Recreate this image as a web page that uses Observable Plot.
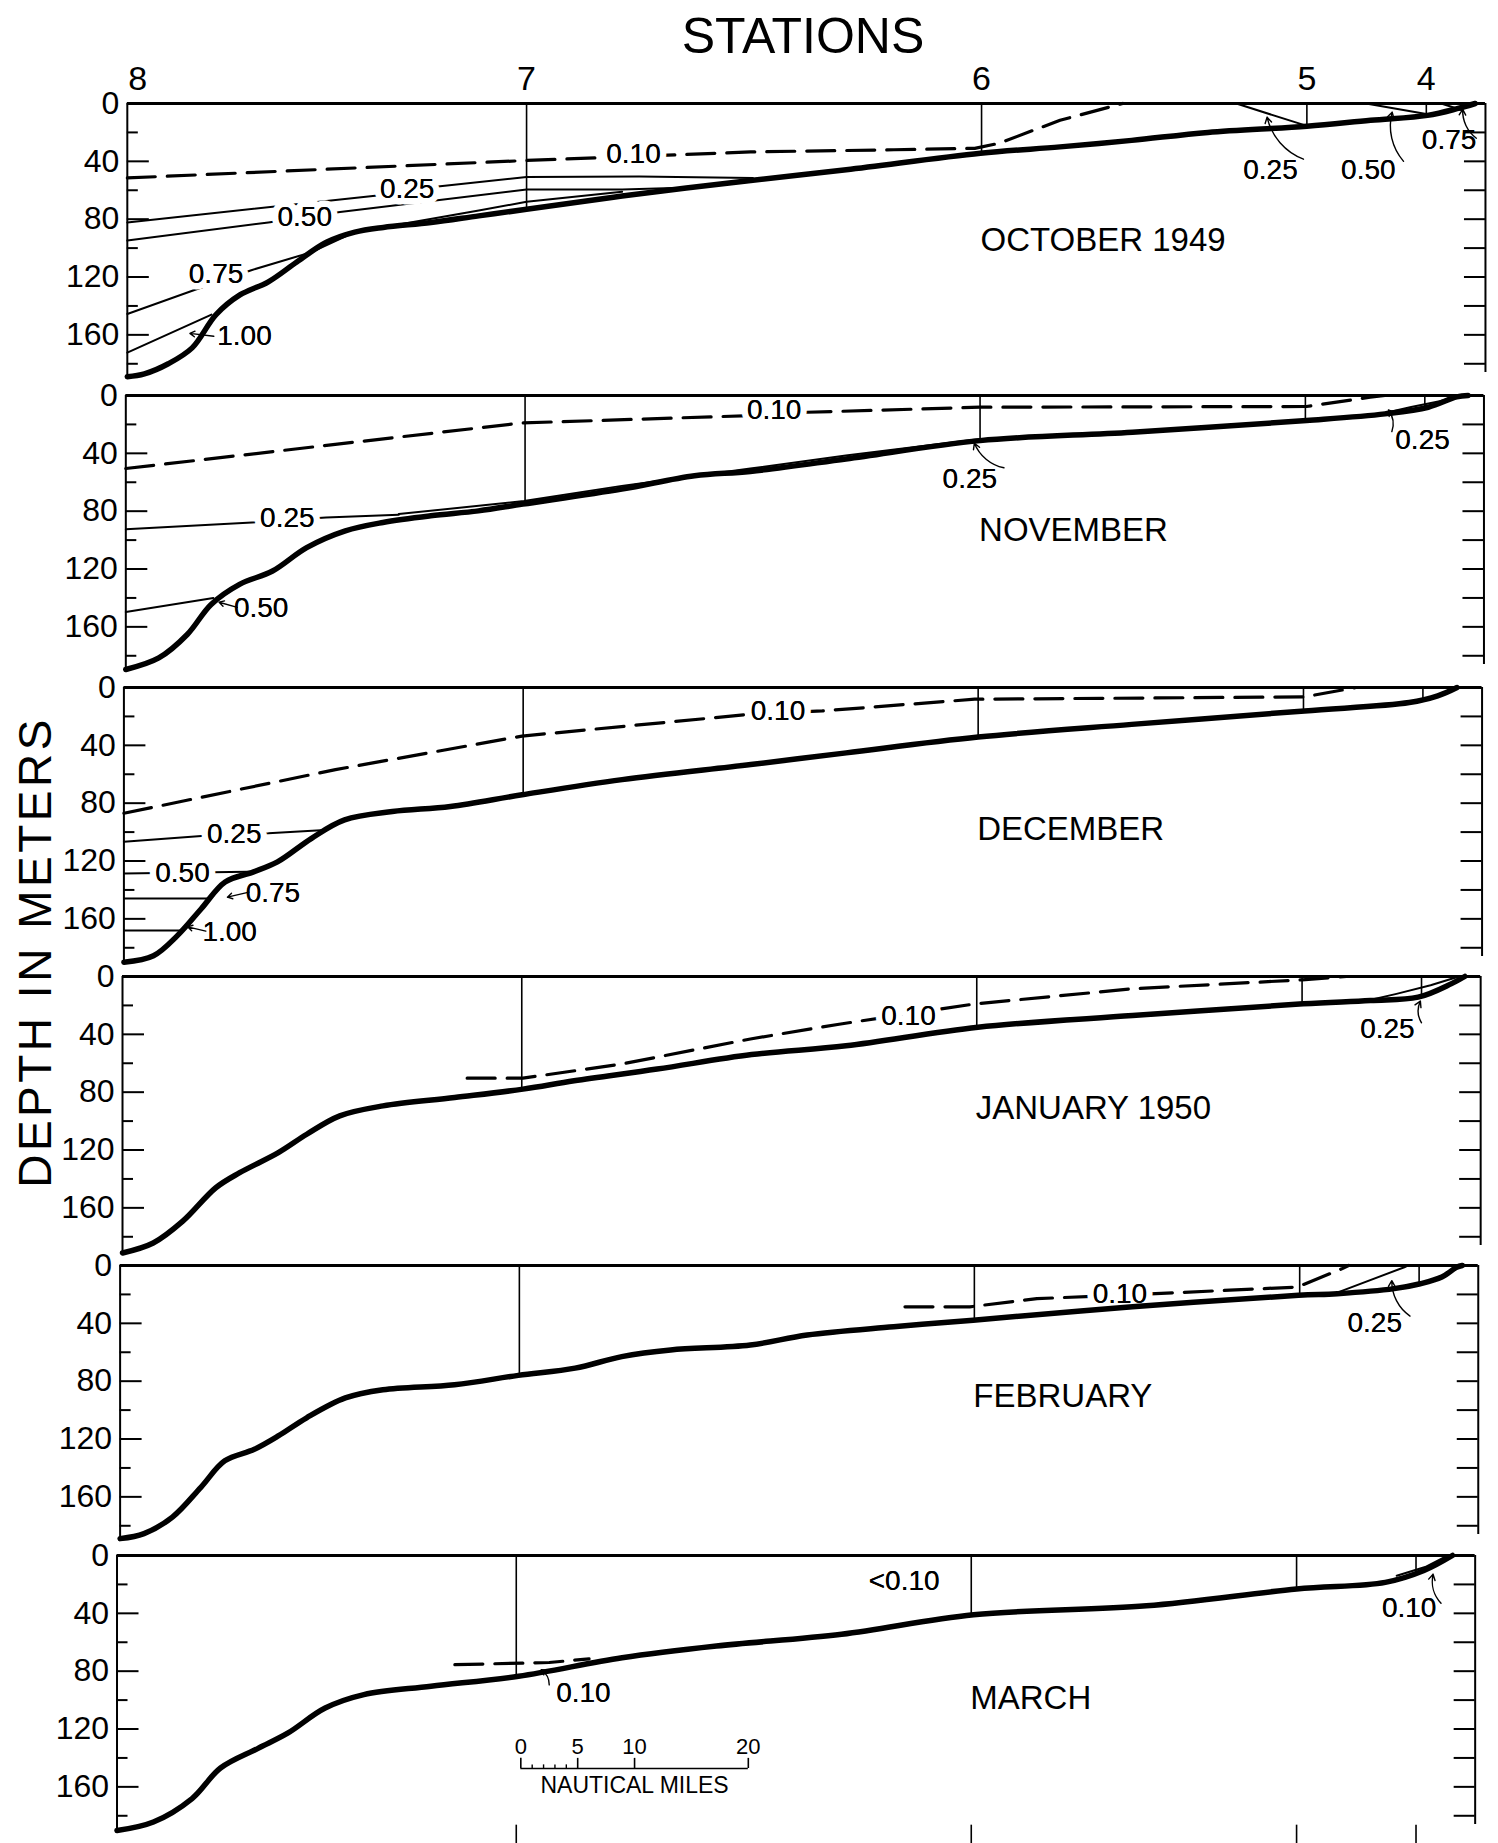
<!DOCTYPE html>
<html><head><meta charset="utf-8">
<script src="https://cdn.jsdelivr.net/npm/d3@7"></script>
<script src="https://cdn.jsdelivr.net/npm/@observablehq/plot@0.6"></script>
<style>
body{margin:0;background:#fff;}
#fig{position:relative;width:1498px;height:1843px;font-family:"Liberation Sans",Arial,sans-serif;color:#000;overflow:hidden;}
#title{position:absolute;left:803px;top:11px;transform:translateX(-50%);font-size:50px;line-height:50px;white-space:nowrap;}
#ylab{position:absolute;left:-265px;top:929px;width:600px;text-align:center;font-size:46px;line-height:46px;letter-spacing:3.5px;transform:rotate(-90deg);white-space:nowrap;}
</style></head>
<body><div id="fig">
<div id="title">STATIONS</div>
<div id="ylab">DEPTH IN METERS</div>
</div>
<script>
// ---------- DATA ----------
const months = ["OCTOBER 1949","NOVEMBER","DECEMBER","JANUARY 1950","FEBRUARY","MARCH"];
const stationNames = ["8","7","6","5","4"];
const stationMiles = [0, 35.1, 75.1, 103.7, 114.2];   // nautical miles from station 8
const depthLabels = [0,40,80,120,160];
const depthMajor = [40,80,120,160];
const depthMinor = [20,60,100,140,180];
const depthRight = [20,40,60,80,100,120,140,160,180];
const scaleMiles = [0,5,10,20];
const scaleMinor = [1,2,3,4];
const monthDepth = [94.8, 93.6, 98.3, 91.5, 90.7, 98.8];

// sounding depth at stations 7,6,5,4
const castOct = [73.2, 34.4, 15.7, 8.2];
const castNov = [75.1, 31.2, 17.3, 8.3];
const castDec = [74.2, 34.3, 16.2, 8.8];
const castJan = [77.9, 35.1, 18.9, 14.1];
const castFeb = [76, 37.8, 20.6, 12.8];
const castMar = [83.5, 41, 23.2, 11];

// bottom profiles [miles, depth m]
const bottomOct = [[0,189],[1.5,187],[3.6,180],[5.7,169],[7.8,146],[9.9,132.4],[12.4,123.3],[14.9,109.6],[17.5,96],[20,89],[22.5,85.7],[26.7,82.3],[30.9,77.7],[35.1,73.2],[43.5,64],[54.8,53.2],[63.2,45.8],[75,34.4],[82,30],[88.3,25.5],[95,20],[103.7,15.7],[109.3,11.6],[114.3,8.2],[116.9,3.6],[118.5,0]];
const bottomNov = [[0,189.5],[2.9,181.5],[5.4,165.3],[7.5,144.5],[10,130.6],[12.9,121.4],[15.9,105.2],[19.3,93.6],[22.6,87.8],[26.8,83.2],[31,79.8],[34.9,75.1],[43.6,64.7],[50,55.5],[54.9,52.5],[63.3,43.9],[75.1,31.2],[88.5,25.4],[103.8,17.3],[110.7,12.7],[114.5,8.1],[117,1],[118,0]];
const bottomDec = [[0,190],[2.6,185.5],[4.7,171.6],[6.8,153],[8.9,134.5],[11.4,127.5],[13.5,120.6],[16.5,104.3],[19.4,91.6],[23.6,85.8],[28.7,82.3],[35,74.2],[43.8,63.7],[55.1,53.3],[63.5,45.2],[75.1,34.3],[88.6,25.5],[103.8,16.2],[113,10.4],[115.5,5.8],[117.2,0]];
const bottomJan = [[0,191.2],[2.7,184.3],[5.3,169.2],[8.2,146.1],[10.3,135.7],[13.7,121.8],[16.2,109.1],[19.1,96.4],[22.9,89.5],[29.2,83.7],[35.2,77.9],[39.7,72.1],[47,64],[55.3,54],[63.6,47.9],[75.2,35.1],[88.8,27],[103.8,18.9],[109.7,16.6],[113.9,14.3],[116.8,5.1],[118,0]];
const bottomFeb = [[0,188.9],[2.1,185.4],[4.6,174],[7.1,153.4],[9.2,135.1],[11.8,127.1],[13.9,117.9],[16.4,105.3],[19.8,91.6],[23.1,85.9],[29.4,82.4],[35,76],[40,71],[44.1,63],[48.4,58.4],[55.4,55],[60.4,48.1],[68,42.4],[75,37.8],[89,28.6],[103.6,20.6],[107,19.5],[112,16],[114.3,12.6],[116.2,8],[117.5,1.2],[118,0]];
const bottomMar = [[0,190.2],[3.2,184.3],[6.6,168.1],[9.1,147],[12.4,133.4],[15,122.9],[18.3,105.5],[21.7,96.2],[27.6,90.4],[35.3,83.5],[44.4,70.7],[52.7,62.6],[63.7,54.5],[75.3,41],[90.5,34.8],[103.7,23.2],[111.5,18.6],[114.9,10.4],[117.4,0]];

// isolines [miles, depth]; dash marks the broken-line isoline
const isoOct = [
  {v:"0.10", dash:true, pts:[[0,51.5],[35.1,39.4],[54.8,33.5],[67.4,32],[74.5,31],[76.6,27.6],[82,11.6],[87.5,0]]},
  {v:"0.25", pts:[[0,82.3],[22,63.6],[27.5,57.2],[35.1,50.8],[45,50.5],[55,51.5]]},
  {v:"0.25", pts:[[97.5,0],[103.7,15.5]]},
  {v:"0.50", pts:[[0,94.8],[12.4,82.3],[18.7,75],[35.1,59.5],[43.5,59.5],[48,58.5]]},
  {v:"0.50", pts:[[108.9,0],[114.7,8]]},
  {v:"0.75", pts:[[0,145.6],[5.9,129],[10.9,115.3],[16.2,102.8],[20,89],[30.9,74],[35.1,68],[43.5,61]]},
  {v:"0.75", pts:[[115.5,0],[117.3,4.5]]},
  {v:"1.00", pts:[[0,172.3],[7.4,146]]}
];
const isoNov = [
  {v:"0.10", dash:true, pts:[[0,50.5],[34.8,19],[54.9,13.9],[59.9,11.6],[75.1,8.1],[103.8,7.6],[109.4,1.2],[110.7,0]]},
  {v:"0.25", pts:[[0,92.5],[11.1,87.8],[17.6,84.4],[24,82.5]]},
  {v:"0.25", pts:[[24,82],[35,73],[43.6,62.5],[54.9,50.5],[63.3,41.5],[75.1,30]]},
  {v:"0.25", pts:[[110.5,12.5],[113,8],[115.5,4],[117.5,0]]},
  {v:"0.50", pts:[[0,149.8],[7.7,140]]}
];
const isoDec = [
  {v:"0.10", dash:true, pts:[[0,87],[18.6,56.8],[35,33.6],[55.1,18.5],[61.4,16.2],[74.8,8.1],[103.8,6.5],[108.3,0]]},
  {v:"0.25", pts:[[0,106.6],[8,102],[12.7,100.8],[17.7,98.5]]},
  {v:"0.50", pts:[[0,128.7],[10.9,127.5]]},
  {v:"0.75", pts:[[0,146],[7.6,146]]},
  {v:"1.00", pts:[[0,168],[5,168]]}
];
const isoJan = [
  {v:"0.10", dash:true, pts:[[30.3,70.3],[35.2,70.3],[43.9,60.5],[55.2,43.2],[63,33],[74.9,19],[88.8,8.5],[103.7,2.3],[107.6,0]]},
  {v:"0.25", pts:[[109.3,17],[112,12],[115,6],[117.5,0]]}
];
const isoFeb = [
  {v:"0.10", dash:true, pts:[[69,28.6],[74.7,28.6],[80.6,22.9],[87.9,20.6],[103.5,14.9],[107.4,2.3],[108,0]]},
  {v:"0.25", pts:[[107,18.8],[112.9,1.2],[113.2,0]]}
];
const isoMar = [
  {v:"0.10", dash:true, pts:[[29.7,75.5],[38,74],[41.5,71.5]]},
  {v:"0.10", pts:[[112.5,14],[115,8],[117,0]]}
];

// isoline labels
const labelsOct = [{t:"0.10",x:44.5,d:35},{t:"0.25",x:24.6,d:59},{t:"0.50",x:15.6,d:78.8},{t:"0.75",x:7.8,d:117.6},{t:"1.00",x:10.3,d:160.9},{t:"0.25",x:100.5,d:45.8},{t:"0.50",x:109.1,d:45.8},{t:"0.75",x:116.2,d:25.3}];
const labelsNov = [{t:"0.10",x:57,d:10},{t:"0.25",x:14.2,d:85},{t:"0.25",x:74.2,d:57.8},{t:"0.25",x:114,d:30.7},{t:"0.50",x:11.9,d:146.8}];
const labelsDec = [{t:"0.10",x:57.5,d:16.5},{t:"0.25",x:9.7,d:101},{t:"0.50",x:5.15,d:128.2},{t:"0.75",x:13.1,d:142},{t:"1.00",x:9.3,d:169.3}];
const labelsJan = [{t:"0.10",x:69.1,d:27.5},{t:"0.25",x:111.2,d:36.3}];
const labelsFeb = [{t:"0.10",x:87.9,d:20},{t:"0.25",x:110.3,d:40}];
const labelsMar = [{t:"0.10",x:41,d:95},{t:"<0.10",x:69.2,d:17.4},{t:"0.10",x:113.6,d:36}];

// leader arrows: from label to isoline; side = bend direction
const leadersOct = [{x1:103.4,d1:38.5,x2:100.2,d2:9.5,side:1},{x1:112.2,d1:40,x2:111.2,d2:6,side:1},{x1:118.6,d1:24,x2:117.4,d2:4,side:1},{x1:7.6,d1:161,x2:5.5,d2:159,side:0}];
const leadersNov = [{x1:77.2,d1:50,x2:74.6,d2:33,side:1},{x1:111.3,d1:25,x2:111,d2:10,side:-1},{x1:9.8,d1:146.5,x2:8.2,d2:143,side:0}];
const leadersDec = [{x1:11,d1:141.5,x2:9.1,d2:145,side:0},{x1:7.2,d1:168.5,x2:5.6,d2:165.5,side:0}];
const leadersJan = [{x1:114.2,d1:32,x2:114.1,d2:17,side:1}];
const leadersFeb = [{x1:113.4,d1:35,x2:111.8,d2:10.5,side:1}];
const leadersMar = [{x1:38,d1:89.5,x2:37.3,d2:79,side:-1},{x1:116.4,d1:33,x2:115.7,d2:13,side:1}];

// ---------- LAYOUT ----------
const panelTop = [103, 395, 686.7, 976, 1265, 1555];
const panelLeft = [126.8, 125.3, 123.4, 122, 119.6, 116.5];
const PX_PER_M = 1.446, PX_PER_NMI = 11.375, X_MAX = 119.4, Y_MAX = 190;
const MT = 40, MB = 40, W = 1498;
const TICK_MAJOR = 22 / PX_PER_NMI, TICK_MINOR = 11 / PX_PER_NMI, TICK_RIGHT = 21 / PX_PER_NMI;
const SCALE_START = 35.5, SCALE_DEPTH = 147.3;
const FONT = "'Liberation Sans', Arial, sans-serif";

const panels = [
  {bottom: bottomOct, iso: isoOct, labels: labelsOct, leaders: leadersOct, casts: castOct},
  {bottom: bottomNov, iso: isoNov, labels: labelsNov, leaders: leadersNov, casts: castNov},
  {bottom: bottomDec, iso: isoDec, labels: labelsDec, leaders: leadersDec, casts: castDec},
  {bottom: bottomJan, iso: isoJan, labels: labelsJan, leaders: leadersJan, casts: castJan},
  {bottom: bottomFeb, iso: isoFeb, labels: labelsFeb, leaders: leadersFeb, casts: castFeb},
  {bottom: bottomMar, iso: isoMar, labels: labelsMar, leaders: leadersMar, casts: castMar}
];

const fig = document.getElementById("fig");

panels.forEach((p, i) => {
  const H = Y_MAX * PX_PER_M;
  const ml = panelLeft[i];
  const mr = W - ml - X_MAX * PX_PER_NMI;
  const stations = stationMiles.slice(1).map((x, k) => ({x, d: p.casts[k]}));
  const rows = p.iso.flatMap((c, k) => c.pts.map(([x, d]) => ({x, d, id: k, dashed: !!c.dash})));
  const bottom = p.bottom.map(([x, d]) => ({x, d}));
  const labelOpts = {x: "x", y: "d", text: "t", fontSize: 28, fill: "black"};

  const marks = [
    // isolines
    Plot.line(rows.filter(r => !r.dashed), {x: "x", y: "d", z: "id", stroke: "black", strokeWidth: 2}),
    Plot.line(rows.filter(r => r.dashed), {x: "x", y: "d", z: "id", stroke: "black", strokeWidth: 3.2, strokeDasharray: "28,12"}),
    // white halo behind labels breaks only the isolines
    Plot.text(p.labels, {...labelOpts, stroke: "white", strokeWidth: 13, strokeLinejoin: "round", paintOrder: "stroke"}),
    // station casts
    Plot.ruleX(stations, {x: "x", y1: 0, y2: "d", stroke: "black", strokeWidth: 1.6}),
    // frame
    Plot.ruleY([0], {stroke: "black", strokeWidth: 3}),
    Plot.ruleX([0], {y1: 0, y2: p.bottom[0][1], stroke: "black", strokeWidth: 2}),
    Plot.ruleX([X_MAX], {y1: 0, y2: 186, stroke: "black", strokeWidth: 2}),
    // inward depth ticks
    Plot.ruleY(depthMajor, {y: d => d, x1: 0, x2: TICK_MAJOR, stroke: "black", strokeWidth: 2}),
    Plot.ruleY(depthMinor, {y: d => d, x1: 0, x2: TICK_MINOR, stroke: "black", strokeWidth: 2}),
    Plot.ruleY(depthRight, {y: d => d, x1: X_MAX - TICK_RIGHT, x2: X_MAX, stroke: "black", strokeWidth: 2}),
    Plot.axisY({anchor: "left", ticks: depthLabels, tickSize: 0, tickPadding: 8, fontSize: 32, label: null}),
    // sea bottom
    Plot.line(bottom, {x: "x", y: "d", curve: "catmull-rom", stroke: "black", strokeWidth: 5.5, strokeLinecap: "round"}),
    // leaders
    Plot.arrow(p.leaders.filter(l => l.side > 0), {x1: "x1", y1: "d1", x2: "x2", y2: "d2", bend: 28, headLength: 7, strokeWidth: 1.4}),
    Plot.arrow(p.leaders.filter(l => l.side < 0), {x1: "x1", y1: "d1", x2: "x2", y2: "d2", bend: -28, headLength: 7, strokeWidth: 1.4}),
    Plot.arrow(p.leaders.filter(l => l.side === 0), {x1: "x1", y1: "d1", x2: "x2", y2: "d2", bend: 0, headLength: 6, strokeWidth: 1.4}),
    // isoline labels
    Plot.text(p.labels, labelOpts),
    // month
    Plot.text([months[i]], {x: stationMiles[2], y: monthDepth[i], text: d => d, textAnchor: "start", dx: -1, fontSize: 33, fill: "black"})
  ];

  if (i === 0) {
    marks.push(
      Plot.text(stationMiles.slice(0, 1), {x: d => d, y: 0, text: () => stationNames[0], textAnchor: "start", dx: 1, dy: -24, fontSize: 34, fill: "black"}),
      Plot.text(stationMiles.slice(1), {x: d => d, y: 0, text: (d, k) => stationNames[k + 1], dy: -24, fontSize: 34, fill: "black"})
    );
  }
  if (i === panels.length - 1) {
    marks.push(
      Plot.ruleX(stationMiles.slice(1), {x: d => d, y1: 186.5, y2: 201, stroke: "black", strokeWidth: 1.6}),
      Plot.ruleY([SCALE_DEPTH], {x1: SCALE_START, x2: SCALE_START + scaleMiles[scaleMiles.length - 1], stroke: "black", strokeWidth: 1.6}),
      Plot.ruleX(scaleMiles, {x: d => SCALE_START + d, y1: SCALE_DEPTH, y2: SCALE_DEPTH - 7, stroke: "black", strokeWidth: 1.6}),
      Plot.ruleX(scaleMinor, {x: d => SCALE_START + d, y1: SCALE_DEPTH, y2: SCALE_DEPTH - 2.5, stroke: "black", strokeWidth: 1.4}),
      Plot.text(scaleMiles, {x: d => SCALE_START + d, y: SCALE_DEPTH, text: d => String(d), dy: -22, fontSize: 22, fill: "black"}),
      Plot.text(["NAUTICAL MILES"], {x: SCALE_START + scaleMiles[scaleMiles.length - 1] / 2, y: SCALE_DEPTH, text: d => d, dy: 17, fontSize: 23, fill: "black"})
    );
  }

  const svg = Plot.plot({
    width: W,
    height: MT + H + MB,
    marginLeft: ml, marginRight: mr, marginTop: MT, marginBottom: MB,
    x: {domain: [0, X_MAX], axis: null},
    y: {domain: [0, Y_MAX], range: [MT, MT + H]},
    style: `background:transparent;overflow:visible;font-family:${FONT};font-size:30px;color:#000;max-width:none;`,
    marks
  });
  svg.style.position = "absolute";
  svg.style.left = "0px";
  svg.style.top = (panelTop[i] - MT) + "px";
  fig.appendChild(svg);
});
</script>
</body></html>
